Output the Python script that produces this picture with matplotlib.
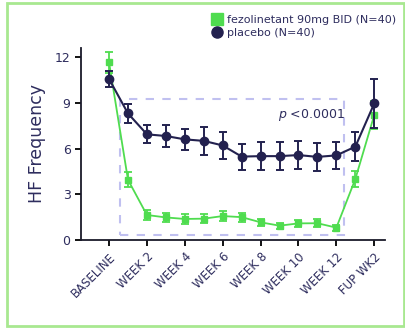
import numpy as np
import matplotlib
import matplotlib.pyplot as plt
from matplotlib.patches import Rectangle
matplotlib.use('Agg')

# visit positions: baseline, weeks 1-12, follow-up wk1, wk2
visits = np.arange(15)
tick_pos = [0, 2, 4, 6, 8, 10, 12, 14]
tick_labels = ['BASELINE', 'WEEK 2', 'WEEK 4', 'WEEK 6', 'WEEK 8',
               'WEEK 10', 'WEEK 12', 'FUP WK2']

fezo_mean = [11.65, 3.95, 1.64, 1.48, 1.38, 1.40, 1.57, 1.50, 1.16,
             0.94, 1.09, 1.10, 0.81, 4.0, 8.2]
fezo_err = [0.7, 0.5, 0.3, 0.3, 0.3, 0.3, 0.3, 0.3, 0.25,
            0.2, 0.25, 0.25, 0.2, 0.5, 0.9]
plac_mean = [10.56, 8.3, 6.93, 6.82, 6.6, 6.5, 6.2, 5.47, 5.5,
             5.5, 5.57, 5.45, 5.55, 6.12, 8.96]
plac_err = [0.5, 0.6, 0.6, 0.7, 0.7, 0.9, 0.9, 0.85, 0.9,
            0.9, 0.9, 0.9, 0.9, 0.95, 1.6]

green = '#4fdc4f'
navy = '#23214f'
txt = '#2e2d5e'

fig = plt.figure(figsize=(4.06, 3.29), dpi=100)
ax = fig.add_axes([0.1995, 0.2705, 0.7485, 0.584])

# dashed box for treatment period
ax.add_patch(Rectangle((0.58, 0.33), 12.4 - 0.58, 9.25 - 0.33, fill=False,
                       edgecolor='#c0c0f0', linestyle=(0, (4, 4)), lw=1.5, zorder=1))

ax.errorbar(visits, fezo_mean, yerr=fezo_err, color=green, marker='s',
            markersize=5, lw=1.3, elinewidth=1.3, capsize=3, capthick=1.3,
            zorder=3, label='fezolinetant 90mg BID (N=40)')
ax.errorbar(visits, plac_mean, yerr=plac_err, color=navy, marker='o',
            markersize=6, lw=1.5, elinewidth=1.4, capsize=3, capthick=1.4,
            zorder=4, label='placebo (N=40)')

ax.text(12.45, 8.2, r'$p$ <0.0001', ha='right', va='center', fontsize=9, color=txt)

ax.set_xlim(-1.48, 14.56)
ax.set_ylim(0, 12.6)
ax.set_yticks([0, 3, 6, 9, 12])
ax.set_xticks(tick_pos)
ax.set_xticklabels(tick_labels, rotation=45, ha='right', rotation_mode='anchor',
                   fontsize=8.5, color=txt, fontweight='medium')
ax.tick_params(axis='y', labelsize=9, labelcolor=txt, length=4, width=1.3)
ax.tick_params(axis='x', length=4, width=1.3)
for s in ['top', 'right']:
    ax.spines[s].set_visible(False)
for s in ['left', 'bottom']:
    ax.spines[s].set_linewidth(1.3)
    ax.spines[s].set_color('#1a1a2a')
ax.set_ylabel('HF Frequency', fontsize=12.5, color=txt, labelpad=6)

handles, labels = ax.get_legend_handles_labels()
handles = [plt.Line2D([], [], color=green, marker='s', markersize=8, ls=''),
           plt.Line2D([], [], color=navy, marker='o', markersize=8, ls='')]
fig.legend(handles, labels, loc='upper right', bbox_to_anchor=(1.0, 0.985),
           frameon=False, fontsize=8, labelcolor=txt, handletextpad=0.3,
           labelspacing=0.3, handlelength=1.2)

# light green frame
fig.patches.append(Rectangle((0.017, 0.008), 0.978, 0.983, transform=fig.transFigure,
                             fill=False, edgecolor='#a8e890', lw=2))

fig.savefig('out.png', dpi=100)
